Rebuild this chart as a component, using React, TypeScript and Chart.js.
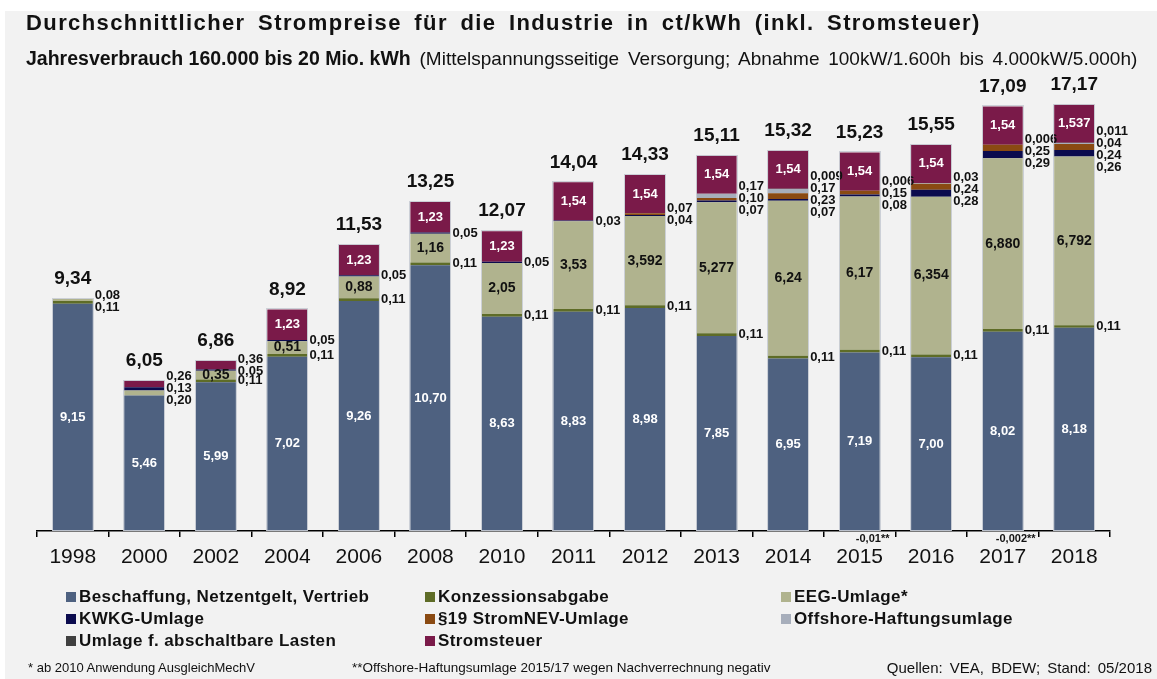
import React, { useEffect, useRef } from 'react';
import { Chart, registerables } from 'chart.js';

Chart.register(...registerables);

const years = ['1998', '2000', '2002', '2004', '2006', '2008', '2010', '2011', '2012', '2013', '2014', '2015', '2016', '2017', '2018'];
const beschaffung = [9.15, 5.46, 5.99, 7.02, 9.26, 10.70, 8.63, 8.83, 8.98, 7.85, 6.95, 7.19, 7.00, 8.02, 8.18];
const konzession = [0.11, 0, 0.11, 0.11, 0.11, 0.11, 0.11, 0.11, 0.11, 0.11, 0.11, 0.11, 0.11, 0.11, 0.11];
const eeg = [0.08, 0.20, 0.35, 0.51, 0.88, 1.16, 2.05, 3.53, 3.592, 5.277, 6.24, 6.17, 6.354, 6.880, 6.792];
const eegDecimals = [2, 2, 2, 2, 2, 2, 2, 2, 3, 3, 2, 2, 3, 3, 3];
const kwkg = [0, 0.13, 0.05, 0.05, 0.05, 0.05, 0.05, 0.03, 0.04, 0.07, 0.07, 0.08, 0.28, 0.29, 0.26];
const stromnev = [0, 0, 0, 0, 0, 0, 0, 0, 0.07, 0.10, 0.23, 0.15, 0.24, 0.25, 0.24];
const offshore = [0, 0, 0, 0, 0, 0, 0, 0, 0, 0.17, 0.17, -0.01, 0.03, -0.002, 0.04];
const abschaltbar = [0, 0, 0, 0, 0, 0, 0, 0, 0, 0, 0.009, 0.006, 0, 0.006, 0.011];
const stromsteuer = [0, 0.26, 0.36, 1.23, 1.23, 1.23, 1.23, 1.54, 1.54, 1.54, 1.54, 1.54, 1.54, 1.54, 1.537];
const totals = [9.34, 6.05, 6.86, 8.92, 11.53, 13.25, 12.07, 14.04, 14.33, 15.11, 15.32, 15.23, 15.55, 17.09, 17.17];

const seriesNames = [
  'Beschaffung, Netzentgelt, Vertrieb',
  'Konzessionsabgabe',
  'EEG-Umlage*',
  'KWKG-Umlage',
  '§19 StromNEV-Umlage',
  'Offshore-Haftungsumlage',
  'Umlage f. abschaltbare Lasten',
  'Stromsteuer',
];
const seriesData = [beschaffung, konzession, eeg, kwkg, stromnev, offshore, abschaltbar, stromsteuer];
const seriesColors = ['#4e6180', '#5e6c27', '#b0b38e', '#0b0b4e', '#8a4a12', '#a7aebb', '#404040', '#7a1a49'];

const FONT = "'Liberation Sans', Arial, Helvetica, sans-serif";

const fmt = (v: number, d?: number) => {
  const s = String(Math.abs(v));
  const dec = d ?? Math.max(2, (s.split('.')[1] || '').length);
  return (v < 0 ? '-' : '') + Math.abs(v).toFixed(dec).replace('.', ',');
};

const labelsPlugin = {
  id: 'stackLabels',
  afterDatasetsDraw(chart: any) {
    const ctx = chart.ctx;
    const ys = chart.scales.y;
    const meta0 = chart.getDatasetMeta(0);
    ctx.save();
    years.forEach((_, i) => {
      const bar = meta0.data[i];
      if (!bar) return;
      const cx = bar.x;
      const half = bar.width / 2;
      const segs: any[] = [];
      let cum = 0;
      seriesData.forEach((arr, d) => {
        const v = arr[i];
        if (v > 0) {
          segs.push({ d, v, from: cum, to: cum + v });
          cum += v;
        }
      });
      const y0 = ys.getPixelForValue(0);
      const yTop = ys.getPixelForValue(cum);
      // outline
      ctx.strokeStyle = 'rgba(200,204,212,0.9)';
      ctx.lineWidth = 1;
      ctx.strokeRect(Math.round(cx - half) - 0.5, Math.round(yTop) - 0.5, Math.round(2 * half) + 1, Math.round(y0 - yTop));

      // total
      ctx.fillStyle = '#111';
      ctx.font = `bold 19px ${FONT}`;
      ctx.textAlign = 'center';
      ctx.textBaseline = 'middle';
      ctx.fillText(fmt(totals[i]), cx, yTop - 20);

      // labels
      const groups: any[][] = [];
      let cur: any[] = [];
      segs.forEach((s) => {
        let inside = false;
        let color = '#fff';
        let size = 13;
        if (s.d === 0) inside = true;
        if (s.d === 2 && s.v >= 0.3) { inside = true; color = '#111'; size = 14; }
        if (s.d === 7 && s.v >= 1) inside = true;
        if (inside) {
          if (cur.length) { groups.push(cur); cur = []; }
          const ym = (ys.getPixelForValue(s.from) + ys.getPixelForValue(s.to)) / 2;
          ctx.fillStyle = color;
          ctx.font = `bold ${size}px ${FONT}`;
          ctx.textAlign = 'center';
          ctx.fillText(fmt(s.v, s.d === 2 ? eegDecimals[i] : undefined), cx, ym);
        } else {
          cur.push(s);
        }
      });
      if (cur.length) groups.push(cur);
      ctx.fillStyle = '#111';
      ctx.font = `bold 13px ${FONT}`;
      ctx.textAlign = 'left';
      groups.forEach((g) => {
        const gy = (ys.getPixelForValue(g[0].from) + ys.getPixelForValue(g[g.length - 1].to)) / 2;
        const sp = 12;
        const n = g.length;
        g.slice().reverse().forEach((s, k) => {
          const ly = gy + (k - (n - 1) / 2) * sp;
          ctx.fillText(fmt(s.v, s.d === 2 ? eegDecimals[i] : undefined), cx + half + 2, ly);
        });
      });
      // negative offshore
      if (offshore[i] < 0) {
        ctx.font = `bold 11px ${FONT}`;
        ctx.textAlign = 'center';
        ctx.fillStyle = '#111';
        ctx.fillText(fmt(offshore[i]) + '**', cx + 13, y0 + 8);
      }
    });
    ctx.restore();
  },
};

export default function App() {
  const ref = useRef<HTMLCanvasElement | null>(null);
  useEffect(() => {
    if (!ref.current) return;
    const chart = new Chart(ref.current, {
      type: 'bar',
      data: {
        labels: years,
        datasets: seriesData.map((arr, d) => ({
          label: seriesNames[d],
          data: arr,
          backgroundColor: seriesColors[d],
          borderWidth: 0,
          categoryPercentage: 0.56,
          barPercentage: 1,
        })),
      },
      options: {
        responsive: false,
        animation: false,
        layout: { padding: { left: 37, right: 47, top: 84, bottom: 108 } },
        plugins: { legend: { display: false }, title: { display: false }, tooltip: { enabled: false } },
        scales: {
          x: {
            stacked: true,
            grid: { display: true, drawOnChartArea: false, drawTicks: true, tickLength: 6, color: '#000', lineWidth: 1.5, offset: true },
            border: { display: true, color: '#000', width: 1.5 },
            ticks: { color: '#111', font: { family: FONT, size: 21 }, padding: 8, maxRotation: 0, autoSkip: false },
            afterFit: (s: any) => { s.height = 40; },
          },
          y: { stacked: true, display: false, min: 0, max: 18 },
        },
      },
      plugins: [labelsPlugin],
    });
    return () => chart.destroy();
  }, []);

  const legendCols = [66, 425, 781];
  const legendRows = [597, 619, 641];

  return (
    <div style={{ position: 'absolute', left: 0, top: 0, width: 1157, height: 679, background: '#fff', overflow: 'hidden', fontFamily: FONT }}>
      <div style={{ position: 'absolute', left: 5, top: 11, right: 0, bottom: 0, background: '#f2f2f2' }} />
      <canvas ref={ref} width={1157} height={679} style={{ position: 'absolute', left: 0, top: 0, width: 1157, height: 679 }} />
      <div style={{ position: 'absolute', left: 26, top: 11, fontSize: 22, fontWeight: 'bold', lineHeight: '24px', color: '#111', letterSpacing: 1.4, wordSpacing: 5, whiteSpace: 'nowrap' }}>
        Durchschnittlicher Strompreise für die Industrie in ct/kWh (inkl. Stromsteuer)
      </div>
      <div style={{ position: 'absolute', left: 26, top: 47, fontSize: 19, lineHeight: '22px', color: '#111', whiteSpace: 'nowrap' }}>
        <span style={{ fontWeight: 'bold', fontSize: 19.5 }}>Jahresverbrauch 160.000 bis 20 Mio. kWh</span>
        <span style={{ wordSpacing: 3.5 }}> (Mittelspannungsseitige Versorgung; Abnahme 100kW/1.600h bis 4.000kW/5.000h)</span>
      </div>
      {seriesNames.map((name, d) => (
        <div key={name} style={{ position: 'absolute', left: legendCols[d % 3], top: legendRows[Math.floor(d / 3)] - 10, height: 20, display: 'flex', alignItems: 'center', whiteSpace: 'nowrap' }}>
          <span style={{ display: 'inline-block', width: 10, height: 10, background: seriesColors[d], marginRight: 3 }} />
          <span style={{ fontSize: 17, fontWeight: 'bold', color: '#111', letterSpacing: 0.4 }}>{name}</span>
        </div>
      ))}
      <div style={{ position: 'absolute', left: 28, top: 659, fontSize: 13, lineHeight: '18px', color: '#111', whiteSpace: 'nowrap' }}>* ab 2010 Anwendung AusgleichMechV</div>
      <div style={{ position: 'absolute', left: 352, top: 659, fontSize: 13.5, lineHeight: '18px', color: '#111', whiteSpace: 'nowrap' }}>**Offshore-Haftungsumlage 2015/17 wegen Nachverrechnung negativ</div>
      <div style={{ position: 'absolute', right: 5, top: 659, fontSize: 15, lineHeight: '18px', color: '#111', wordSpacing: 3, whiteSpace: 'nowrap' }}>Quellen: VEA, BDEW; Stand: 05/2018</div>
    </div>
  );
}
